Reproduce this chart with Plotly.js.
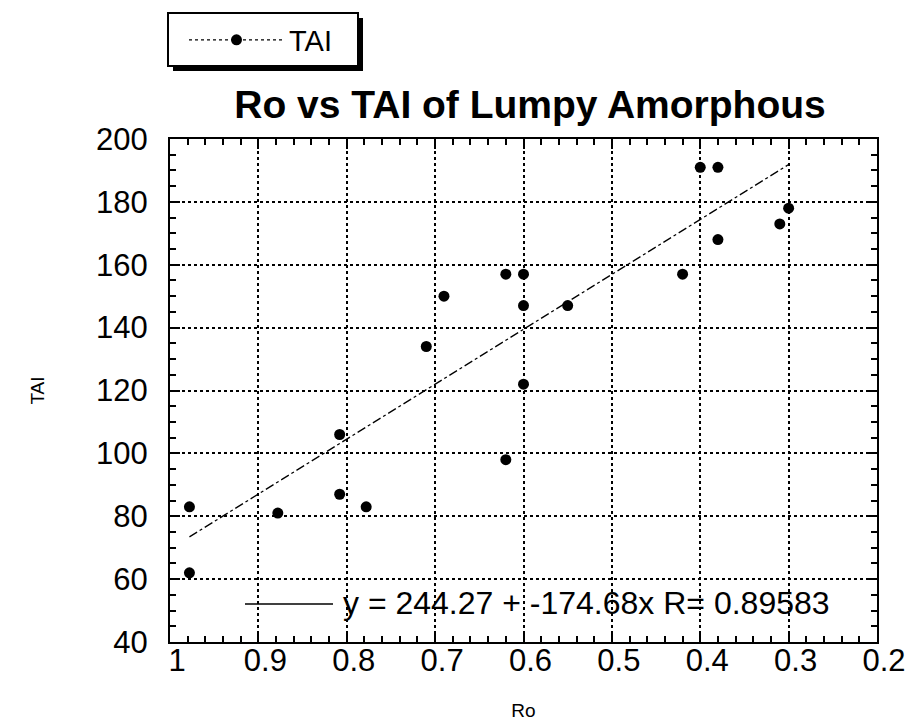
<!DOCTYPE html>
<html>
<head>
<meta charset="utf-8">
<script src="https://cdn.plot.ly/plotly-3.0.1.min.js"></script>
<style>
  html, body { margin: 0; padding: 0; background: #ffffff; }
  #chart { width: 907px; height: 727px; }
</style>
</head>
<body>
<div id="chart"></div>
<script>
// Ro / TAI measurements for the lumpy amorphous samples
const ro  = [0.978, 0.978, 0.878, 0.808, 0.808, 0.778, 0.710, 0.690, 0.620, 0.620,
             0.600, 0.600, 0.600, 0.550, 0.420, 0.400, 0.380, 0.380, 0.310, 0.300];
const tai = [83, 62, 81, 106, 87, 83, 134, 150, 157, 98,
             157, 147, 122, 147, 157, 191, 191, 168, 173, 178];

// Least-squares fit reported on the chart
const fitIntercept = 244.27;
const fitSlope = -174.68;
const fitR = 0.89583;

// Axis ticks: labelled major ticks and unlabelled minor ticks
const xTickVals = [1, 0.9, 0.8, 0.7, 0.6, 0.5, 0.4, 0.3, 0.2];
const yTickVals = [40, 60, 80, 100, 120, 140, 160, 180, 200];
const xMinorStep = 0.02;
const yMinorStep = 5;

const FONT = 'Liberation Sans, Arial, Helvetica, sans-serif';

const xMin = Math.min(...ro), xMax = Math.max(...ro);
const fitX = [xMax, xMin];
const fitY = fitX.map(v => fitIntercept + fitSlope * v);

const xStep = Math.abs(xTickVals[0] - xTickVals[1]);
const yStep = Math.abs(yTickVals[1] - yTickVals[0]);

const traces = [
  {
    x: ro, y: tai, type: 'scatter', mode: 'markers', name: 'TAI',
    showlegend: false,
    marker: { color: '#000000', size: 11 }
  },
  {
    // legend swatch for the TAI series
    x: [null], y: [null], type: 'scatter', mode: 'lines+markers', name: 'TAI',
    line: { color: '#000000', width: 1.2, dash: 'dot' },
    marker: { color: '#000000', size: 11 }
  },
  {
    x: fitX, y: fitY, type: 'scatter', mode: 'lines', name: 'fit',
    showlegend: false,
    line: { color: '#000000', width: 1.3, dash: 'dashdot' }
  }
];

// pixel helpers for the plot-area based paper coordinates
const L = 170, R = 877, T = 139, B = 642;
const px = v => (v - L) / (R - L);
const py = v => (B - v) / (B - T);

const eqText = 'y = ' + fitIntercept.toFixed(2) + ' + ' + fitSlope.toFixed(2) + 'x R= ' + fitR.toFixed(5);

const layout = {
  width: 907, height: 727,
  margin: { l: L, r: 907 - R, t: T, b: 727 - B },
  paper_bgcolor: '#ffffff',
  plot_bgcolor: '#ffffff',
  font: { family: FONT, color: '#000000', size: 28 },
  title: {
    text: '<b>Ro vs TAI of Lumpy Amorphous</b>',
    font: { family: FONT, size: 39, color: '#000000' },
    xref: 'paper', x: px(530), xanchor: 'center',
    yref: 'container', y: 1 - 104 / 727, yanchor: 'middle'
  },
  xaxis: {
    range: [xTickVals[0], xTickVals[xTickVals.length - 1]],
    tickmode: 'linear', tick0: xTickVals[xTickVals.length - 1], dtick: xStep,
    ticks: 'inside', ticklen: 10, tickwidth: 2, tickcolor: '#000000',
    minor: { tickmode: 'linear', tick0: 0, dtick: xMinorStep, ticks: 'inside', ticklen: 6,
             tickwidth: 1.6, tickcolor: '#000000', showgrid: false },
    showgrid: true, gridcolor: '#000000', gridwidth: 1.5, griddash: 'dot',
    showline: true, linecolor: '#000000', linewidth: 2, mirror: 'allticks',
    zeroline: false,
    tickfont: { family: FONT, size: 31, color: '#000000' },
    ticklabelshift: -7,
    ticklabelstandoff: -10,
    title: { text: 'Ro', font: { family: FONT, size: 19, color: '#000000' }, standoff: 26 }
  },
  yaxis: {
    range: [yTickVals[0], yTickVals[yTickVals.length - 1]],
    tickmode: 'linear', tick0: yTickVals[0], dtick: yStep,
    ticks: 'inside', ticklen: 10, tickwidth: 2, tickcolor: '#000000',
    minor: { tickmode: 'linear', tick0: 0, dtick: yMinorStep, ticks: 'inside', ticklen: 6,
             tickwidth: 1.6, tickcolor: '#000000', showgrid: false },
    showgrid: true, gridcolor: '#000000', gridwidth: 1.5, griddash: 'dot',
    showline: true, linecolor: '#000000', linewidth: 2, mirror: 'allticks',
    zeroline: false,
    tickfont: { family: FONT, size: 31, color: '#000000' },
    ticklabelstandoff: 14,
    title: { text: 'TAI', font: { family: FONT, size: 19, color: '#000000' }, standoff: 46 }
  },
  showlegend: true,
  legend: {
    x: px(184), xanchor: 'left',
    y: py(40), yanchor: 'middle',
    bgcolor: 'rgba(0,0,0,0)', borderwidth: 0,
    itemwidth: 95,
    font: { family: FONT, size: 29, color: '#000000' }
  },
  shapes: [
    // legend box with drop shadow
    { type: 'rect', xref: 'paper', yref: 'paper', layer: 'below',
      x0: px(173), x1: px(363), y0: py(18), y1: py(71),
      fillcolor: '#000000', line: { width: 0 } },
    { type: 'rect', xref: 'paper', yref: 'paper', layer: 'below',
      x0: px(168), x1: px(358), y0: py(13), y1: py(66),
      fillcolor: '#ffffff', line: { color: '#000000', width: 2 } },
    // sample line for the fit equation
    { type: 'line', xref: 'paper', yref: 'paper',
      x0: px(245), x1: px(333), y0: py(604), y1: py(604),
      line: { color: '#000000', width: 1.3 } }
  ],
  annotations: [
    { xref: 'paper', yref: 'paper', x: px(341), y: py(603),
      xanchor: 'left', yanchor: 'middle', showarrow: false,
      text: eqText, font: { family: FONT, size: 32, color: '#000000' } }
  ]
};

Plotly.newPlot('chart', traces, layout, { displayModeBar: false, responsive: false });
</script>
</body>
</html>
